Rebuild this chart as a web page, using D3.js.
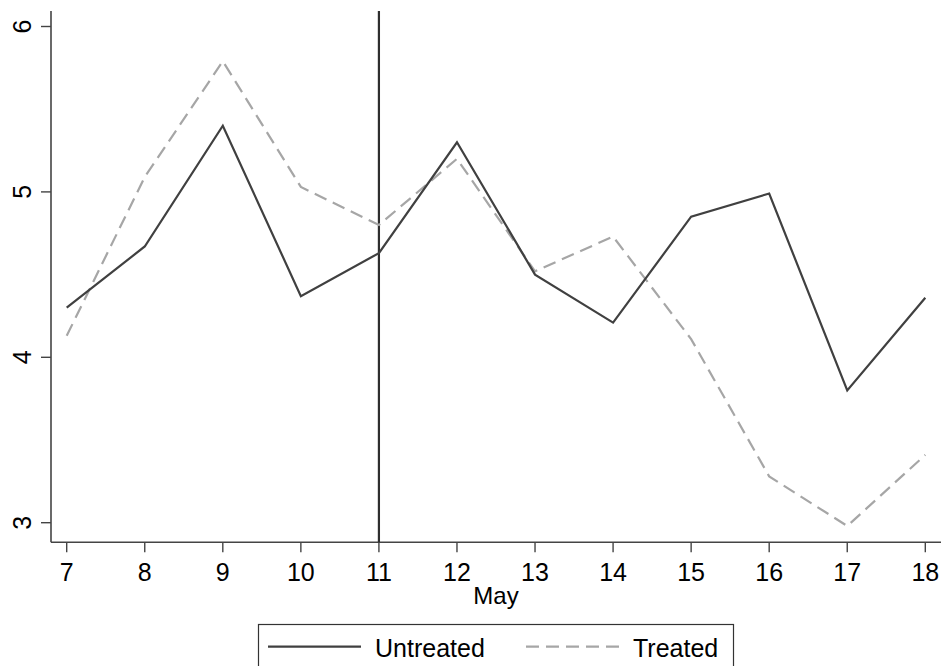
<!doctype html>
<html>
<head>
<meta charset="utf8">
<title>Untreated vs Treated</title>
<script src="https://cdn.jsdelivr.net/npm/d3@7"></script>
<style>
  body { margin: 0; background: #fff; }
  svg text { font-family: "Liberation Sans", Arial, sans-serif; fill: #000; }
</style>
</head>
<body>
<div id="board"></div>
<script>
"use strict";
// data
const days = [7, 8, 9, 10, 11, 12, 13, 14, 15, 16, 17, 18];
const untreated = [4.30, 4.67, 5.40, 4.37, 4.63, 5.30, 4.50, 4.21, 4.85, 4.99, 3.80, 4.36];
const treated = [4.13, 5.09, 5.79, 5.03, 4.80, 5.20, 4.52, 4.73, 4.11, 3.28, 2.98, 3.41];
const yTicks = [3, 4, 5, 6];
const markerDay = 11;
const xTitle = "May";
const seriesNames = ["Untreated", "Treated"];

const _width = 941, _height = 666;
const fontSize = 25;
const axisColor = "#444";

var svg = d3.select("#board").append("svg")
    .attr("width", _width)
    .attr("height", _height);

var xScale = d3.scaleLinear().domain([7, 18]).range([66.7, 925.3]);
var yScale = d3.scaleLinear().domain([3, 6]).range([522.7, 26.5]);

const axisX = 51, axisY = 542.3, axisTop = 11;

// axis lines
svg.append("line")
    .attr("x1", axisX).attr("x2", axisX)
    .attr("y1", axisTop).attr("y2", axisY)
    .attr("stroke", axisColor).attr("stroke-width", 1.6);
svg.append("line")
    .attr("x1", axisX).attr("x2", _width)
    .attr("y1", axisY).attr("y2", axisY)
    .attr("stroke", axisColor).attr("stroke-width", 1.6);

// y ticks, labels rotated
var yg = svg.append("g");
yg.selectAll("line").data(yTicks).enter().append("line")
    .attr("x1", axisX - 10).attr("x2", axisX)
    .attr("y1", d => yScale(d)).attr("y2", d => yScale(d))
    .attr("stroke", axisColor).attr("stroke-width", 1.4);
yg.selectAll("text").data(yTicks).enter().append("text")
    .attr("transform", d => "translate(31," + yScale(d) + ") rotate(-90)")
    .attr("text-anchor", "middle")
    .attr("font-size", fontSize)
    .text(d => d);

// x ticks
var xg = svg.append("g");
xg.selectAll("line").data(days).enter().append("line")
    .attr("x1", d => xScale(d)).attr("x2", d => xScale(d))
    .attr("y1", axisY).attr("y2", axisY + 10)
    .attr("stroke", axisColor).attr("stroke-width", 1.4);
xg.selectAll("text").data(days).enter().append("text")
    .attr("x", d => xScale(d))
    .attr("y", 581)
    .attr("text-anchor", "middle")
    .attr("font-size", fontSize)
    .text(d => d);

svg.append("text")
    .attr("x", (xScale(7) + xScale(18)) / 2)
    .attr("y", 603.5)
    .attr("text-anchor", "middle")
    .attr("font-size", fontSize - 1)
    .text(xTitle);

// vertical reference line
svg.append("line")
    .attr("x1", xScale(markerDay)).attr("x2", xScale(markerDay))
    .attr("y1", axisTop).attr("y2", axisY)
    .attr("stroke", "#2e2e2e").attr("stroke-width", 2.2);

// series
var line = d3.line()
    .x(d => xScale(d[0]))
    .y(d => yScale(d[1]));

svg.append("path")
    .datum(days.map((d, i) => [d, treated[i]]))
    .attr("d", line)
    .attr("fill", "none")
    .attr("stroke", "#a6a6a6")
    .attr("stroke-width", 2.2)
    .attr("stroke-dasharray", "13,7");

svg.append("path")
    .datum(days.map((d, i) => [d, untreated[i]]))
    .attr("d", line)
    .attr("fill", "none")
    .attr("stroke", "#404040")
    .attr("stroke-width", 2.2);

// legend
var lg = svg.append("g");
lg.append("rect")
    .attr("x", 258.5).attr("y", 624.5)
    .attr("width", 475).attr("height", 60)
    .attr("fill", "#fff")
    .attr("stroke", "#333").attr("stroke-width", 1.2);
lg.append("line")
    .attr("x1", 268).attr("x2", 361)
    .attr("y1", 646.7).attr("y2", 646.7)
    .attr("stroke", "#404040").attr("stroke-width", 2.2);
lg.append("text")
    .attr("x", 375).attr("y", 657)
    .attr("font-size", fontSize)
    .text(seriesNames[0]);
lg.append("line")
    .attr("x1", 526).attr("x2", 621)
    .attr("y1", 646.7).attr("y2", 646.7)
    .attr("stroke", "#a6a6a6").attr("stroke-width", 2.2)
    .attr("stroke-dasharray", "13,7");
lg.append("text")
    .attr("x", 633).attr("y", 657)
    .attr("font-size", fontSize)
    .text(seriesNames[1]);
</script>
</body>
</html>
